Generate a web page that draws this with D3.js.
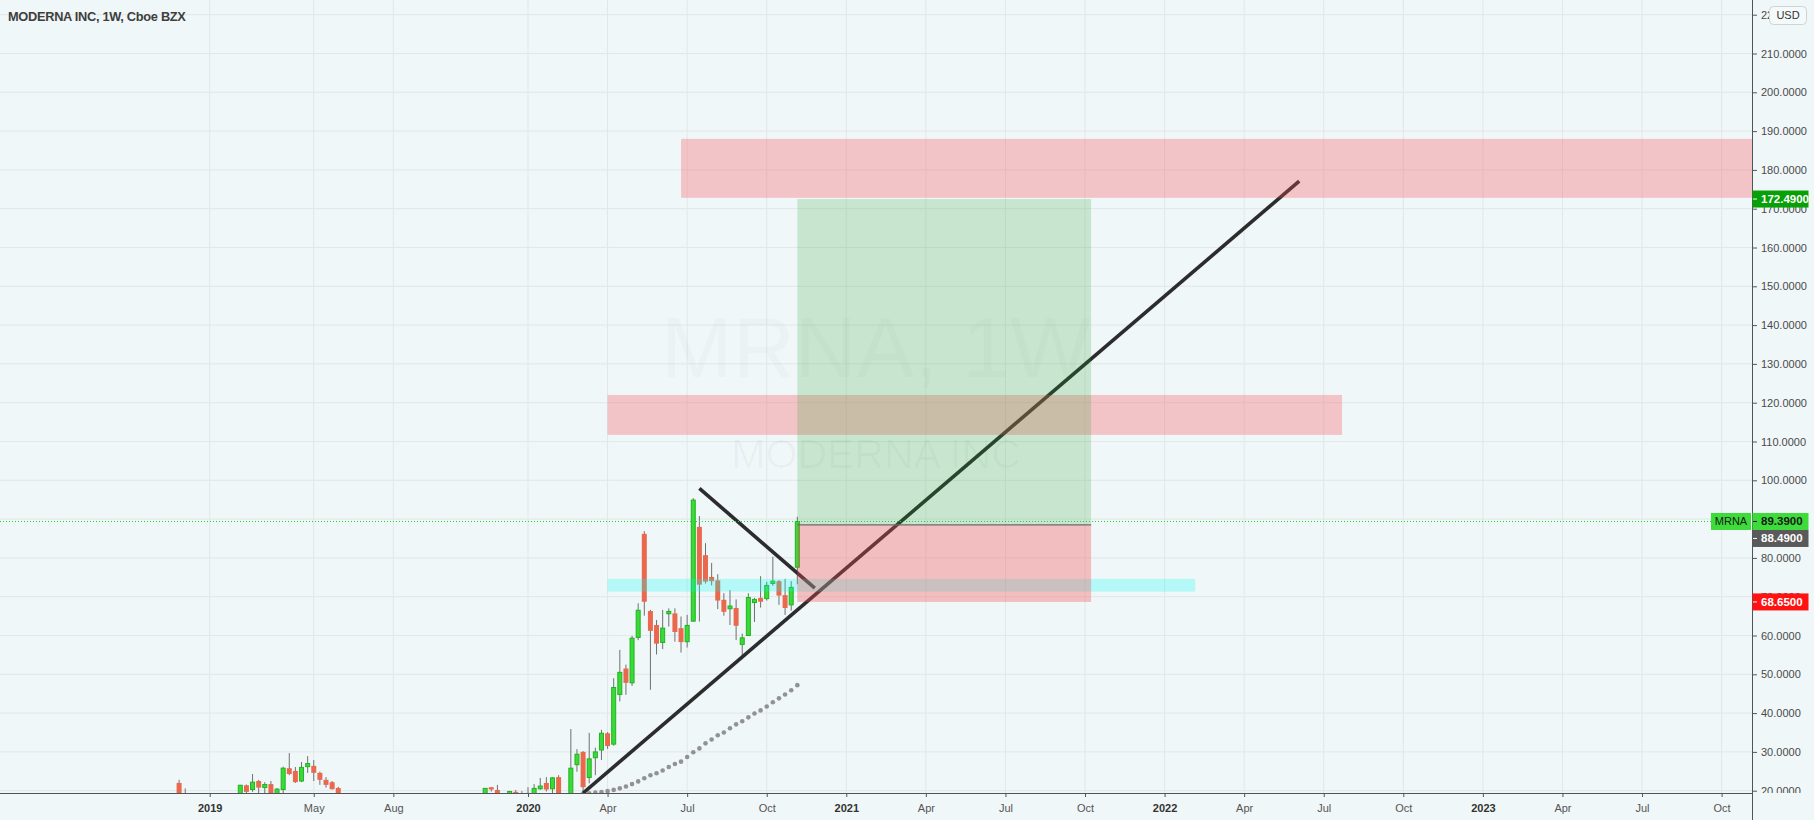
<!DOCTYPE html>
<html>
<head>
<meta charset="utf-8">
<script src="https://cdn.jsdelivr.net/npm/d3@7/dist/d3.min.js"></script>
<style>
html,body{margin:0;padding:0;background:#f0f7f8;}
svg{display:block;font-family:"Liberation Sans",Arial,sans-serif;}
</style>
</head>
<body>
<svg id="chart" width="1814" height="820"></svg>
<script>
// ---------------- DATA ----------------
const chartTitle = "MODERNA INC, 1W, Cboe BZX";
const watermarkSymbol = "MRNA, 1W";
const watermarkName = "MODERNA INC";
const symbolName = "MRNA";
const currency = "USD";

const weekDates = [
"2018-12-03","2018-12-10",
"2019-02-11","2019-02-18","2019-02-25","2019-03-04","2019-03-11","2019-03-18","2019-03-25",
"2019-04-01","2019-04-08","2019-04-15","2019-04-22","2019-04-29","2019-05-06","2019-05-13",
"2019-05-20","2019-05-27","2019-06-03",
"2019-11-18","2019-11-25","2019-12-02","2019-12-16","2019-12-23","2019-12-30",
"2020-01-06","2020-01-13","2020-01-20","2020-01-27","2020-02-03","2020-02-10","2020-02-24",
"2020-03-02","2020-03-09","2020-03-16","2020-03-23","2020-03-30","2020-04-06","2020-04-13",
"2020-04-20","2020-04-27","2020-05-04","2020-05-11","2020-05-18","2020-05-25","2020-06-01",
"2020-06-08","2020-06-15","2020-06-22","2020-06-29","2020-07-06","2020-07-13","2020-07-20",
"2020-07-27","2020-08-03","2020-08-10","2020-08-17","2020-08-24","2020-08-31","2020-09-07",
"2020-09-14","2020-09-21","2020-09-28","2020-10-05","2020-10-12","2020-10-19","2020-10-26",
"2020-11-02","2020-11-09"];

const openPrices = [
22.0,18.8,
19.0,21.4,20.3,22.5,20.8,21.7,19.2,
20.3,25.8,25.1,22.5,26.2,26.4,24.6,
22.8,22.2,20.7,
18.8,20.9,20.2,19.0,19.7,19.3,
18.9,19.0,20.5,22.0,20.5,23.5,19.0,
26.7,30.0,23.4,28.5,30.5,34.8,32.0,
44.8,51.5,47.8,59.5,86.2,66.3,62.7,
58.2,65.6,65.7,61.9,58.4,63.7,88.0,
80.7,75.1,74.2,69.2,66.9,67.1,57.7,
60.0,68.5,69.7,69.5,73.4,74.0,70.4,
67.9,77.6];

const highPrices = [
22.8,20.6,
21.5,21.6,24.3,22.8,22.2,22.5,20.7,
26.2,29.7,26.1,27.4,28.9,27.9,24.9,
23.5,22.5,21.0,
20.7,20.9,21.5,19.9,20.2,19.9,
20.9,21.7,23.3,23.5,23.5,24.0,35.9,
30.7,30.2,34.9,31.1,35.7,35.1,49.0,
56.3,52.5,59.9,68.3,86.9,66.6,64.0,
66.6,67.0,67.0,64.9,65.3,95.4,90.8,
83.8,78.7,75.8,70.9,71.7,69.3,60.5,
70.9,69.7,75.3,73.8,80.3,74.3,74.6,
74.0,90.6];

const lowPrices = [
17.5,16.8,
18.6,19.3,19.7,19.2,19.3,18.6,18.9,
19.2,24.0,22.0,22.2,24.6,22.5,21.5,
20.8,20.3,18.0,
18.5,19.8,18.7,18.8,19.0,18.6,
18.6,18.8,20.2,19.8,19.3,18.8,18.7,
24.9,19.8,21.9,24.0,27.9,30.8,31.6,
43.0,44.7,47.0,58.8,65.1,46.0,55.1,
56.5,62.3,58.4,55.6,56.9,63.6,63.6,
73.4,72.9,66.8,65.1,62.7,58.8,53.9,
60.0,63.5,67.2,69.0,72.8,67.9,65.3,
66.4,73.2];

const closePrices = [
18.6,17.3,
21.4,19.7,22.2,20.8,21.6,19.0,20.4,
25.8,24.3,22.2,26.0,27.0,24.6,22.8,
21.5,20.4,18.5,
20.6,20.3,19.0,19.8,19.2,19.1,
19.3,20.6,21.2,20.3,23.3,19.0,25.8,
29.4,20.9,28.2,30.0,34.8,31.5,46.6,
50.5,47.8,59.3,66.5,68.7,61.2,57.9,
61.9,66.2,60.9,58.3,62.6,94.9,73.1,
73.9,74.0,69.0,66.1,67.6,62.5,59.4,
69.8,69.3,68.7,72.9,74.0,70.3,67.1,
72.4,89.39];

// moving average (dotted), aligned with the last weeks of weekDates
const maValues = [
19.2,19.35,19.5,19.65,19.9,20.2,20.6,21.1,21.7,22.4,23.2,24.0,24.5,25.2,26.1,26.9,27.5,28.7,
29.9,30.9,32.2,33.2,34.3,35.0,36.1,37.1,37.9,38.9,39.9,40.7,41.7,42.8,43.8,44.8,45.9,47.2];

// drawings
const topZone = {start:"2020-06-29", end:"2024-06-01", low:172.8, high:188.0};
const midZone = {start:"2020-04-06", end:"2022-07-25", low:111.7, high:122.0};
const supportZone = {start:"2020-04-06", end:"2022-02-07", low:71.3, high:74.6};
const positionTool = {start:"2020-11-09", end:"2021-10-11", entry:88.49, target:172.49, stop:68.65};
const trendUp = [["2020-03-09", 19.4], ["2022-06-06", 177.1]];
const trendDown = [["2020-07-20", 97.9], ["2020-11-29", 72.2]];

// axes
const priceTicks = [20,30,40,50,60,70,80,90,100,110,120,130,140,150,160,170,180,190,200,210,220];
const timeTickDates = ["2019-01-07","2019-05-06","2019-08-05","2020-01-06","2020-04-06","2020-07-06",
"2020-10-05","2021-01-04","2021-04-05","2021-07-05","2021-10-04","2022-01-03","2022-04-04",
"2022-07-04","2022-10-03","2023-01-02","2023-04-03","2023-07-03","2023-10-02"];
const timeTickLabels = ["2019","May","Aug","2020","Apr","Jul","Oct","2021","Apr","Jul","Oct","2022",
"Apr","Jul","Oct","2023","Apr","Jul","Oct"];

// ---------------- CHART ----------------
const svg = d3.select("#chart");
const W = 1752, H = 793;
const P = d3.utcParse("%Y-%m-%d");
const x = d3.scaleUtc().domain([P("2020-01-06"), P("2023-10-02")]).range([528, 1721.6]);
const y = d3.scaleLinear().domain([20, 210]).range([790.7, 53.5]);

svg.append("rect").attr("width",1814).attr("height",820).attr("fill","#f0f7f8");
const defs = svg.append("defs");
defs.append("clipPath").attr("id","plotClip").append("rect").attr("x",0).attr("y",0).attr("width",W).attr("height",H);
// local coordinates of the translated price-axis group
defs.append("clipPath").attr("id","axisClip").append("rect").attr("x",0).attr("y",0).attr("width",62).attr("height",H);

// grid
const grid = svg.append("g").attr("clip-path","url(#plotClip)");
grid.selectAll("line.h").data(priceTicks).join("line").attr("class","h")
  .attr("x1",0).attr("x2",W).attr("y1",d=>y(d)).attr("y2",d=>y(d))
  .attr("stroke","#e2e7e9").attr("stroke-width",1);
grid.selectAll("line.v").data(timeTickDates).join("line").attr("class","v")
  .attr("x1",d=>x(P(d))).attr("x2",d=>x(P(d))).attr("y1",0).attr("y2",H)
  .attr("stroke","#e2e7e9").attr("stroke-width",1);

// watermark
const wm = svg.append("g").attr("clip-path","url(#plotClip)");
wm.append("text").attr("x",W/2).attr("y",377).attr("text-anchor","middle")
  .attr("font-size",86).attr("fill","rgba(0,0,0,0.02)").text(watermarkSymbol);
wm.append("text").attr("x",W/2).attr("y",468).attr("text-anchor","middle")
  .attr("font-size",41).attr("fill","rgba(0,0,0,0.03)").text(watermarkName);

const plot = svg.append("g").attr("clip-path","url(#plotClip)");

// candles
const bars = weekDates.map((d,i)=>({d:P(d),o:openPrices[i],h:highPrices[i],l:lowPrices[i],c:closePrices[i]}));
const cg = plot.append("g");
cg.selectAll("line.wick").data(bars).join("line").attr("class","wick")
  .attr("x1",b=>x(b.d)).attr("x2",b=>x(b.d)).attr("y1",b=>y(b.h)).attr("y2",b=>y(b.l))
  .attr("stroke","#707070").attr("stroke-width",1);
cg.selectAll("rect.body").data(bars).join("rect").attr("class","body")
  .attr("x",b=> b.c>=b.o ? x(b.d)-2 : x(b.d)-2.5)
  .attr("width",b=> b.c>=b.o ? 4 : 5)
  .attr("y",b=>y(Math.max(b.o,b.c)))
  .attr("height",b=>Math.max(1,Math.abs(y(b.o)-y(b.c))))
  .attr("fill",b=> b.c>=b.o ? "#3bd93a" : "#ea684d")
  .attr("stroke",b=> b.c>=b.o ? "#1fb41f" : "none")
  .attr("stroke-width",1);

// moving average dots
const maDates = weekDates.slice(-maValues.length);
plot.append("g").selectAll("circle").data(maValues).join("circle")
  .attr("cx",(v,i)=>x(P(maDates[i]))).attr("cy",v=>y(v)).attr("r",2.3).attr("fill","#929292");

// trend lines
const lineGen = d3.line().x(p=>x(P(p[0]))).y(p=>y(p[1]));
[trendUp, trendDown].forEach(t=>{
  plot.append("path").attr("d",lineGen(t)).attr("fill","none")
    .attr("stroke","#2c2c2c").attr("stroke-width",3.6);
});

// zones
function zone(z, fill){
  plot.append("rect").attr("x",x(P(z.start))).attr("width",x(P(z.end))-x(P(z.start)))
    .attr("y",y(z.high)).attr("height",y(z.low)-y(z.high)).attr("fill",fill);
}
zone(topZone,"rgba(250,80,85,0.3)");
zone(midZone,"rgba(250,80,85,0.3)");
zone(supportZone,"rgba(0,255,245,0.25)");
// position tool
const px0 = x(P(positionTool.start)), px1 = x(P(positionTool.end));
plot.append("rect").attr("x",px0).attr("width",px1-px0).attr("y",y(positionTool.target))
  .attr("height",y(positionTool.entry)-y(positionTool.target)).attr("fill","rgba(40,165,45,0.2)");
plot.append("rect").attr("x",px0).attr("width",px1-px0).attr("y",y(positionTool.entry))
  .attr("height",y(positionTool.stop)-y(positionTool.entry)).attr("fill","rgba(250,75,80,0.33)");
plot.append("line").attr("x1",px0).attr("x2",px1).attr("y1",y(positionTool.entry)).attr("y2",y(positionTool.entry))
  .attr("stroke","#6a6a6a").attr("stroke-width",1.2);

// last price dotted line
const lastClose = closePrices[closePrices.length-1];
plot.append("line").attr("x1",0).attr("x2",W).attr("y1",Math.round(y(lastClose))+0.5).attr("y2",Math.round(y(lastClose))+0.5)
  .attr("stroke","#22d422").attr("stroke-width",1).attr("stroke-dasharray","1,2");

// ---------------- AXES ----------------
// price axis
const yAxis = d3.axisRight(y).tickValues(priceTicks).tickFormat(d3.format(".4f")).tickSize(5).tickPadding(4);
const ya = svg.append("g").attr("transform",`translate(${W},0)`).attr("clip-path","url(#axisClip)").call(yAxis);
ya.select(".domain").remove();
ya.selectAll(".tick line").attr("stroke","#555");
ya.selectAll(".tick text").attr("font-size",11).attr("fill","#4a4a4a").attr("font-family","Liberation Sans, Arial, sans-serif");

// time axis
const xAxis = d3.axisBottom(x).tickValues(timeTickDates.map(P)).tickFormat((d,i)=>timeTickLabels[i]).tickSize(4).tickPadding(7);
const xa = svg.append("g").attr("transform",`translate(0,${H})`).call(xAxis);
xa.select(".domain").remove();
xa.selectAll(".tick line").attr("stroke","#555");
xa.selectAll(".tick text").attr("font-size",11).attr("font-family","Liberation Sans, Arial, sans-serif")
  .attr("fill",(d,i)=>/^\d{4}$/.test(timeTickLabels[i]) ? "#333" : "#555")
  .attr("font-weight",(d,i)=>/^\d{4}$/.test(timeTickLabels[i]) ? "bold" : "normal");

// axis lines
svg.append("line").attr("x1",0).attr("x2",W).attr("y1",H+0.5).attr("y2",H+0.5).attr("stroke","#50535a").attr("stroke-width",1);
svg.append("line").attr("x1",W+0.5).attr("x2",W+0.5).attr("y1",0).attr("y2",820).attr("stroke","#50535a").attr("stroke-width",1);

// price labels
const fmt = d3.format(".4f");
function priceLabel(cy, bg, fg, txt){
  const g = svg.append("g");
  g.append("rect").attr("x",W+0.5).attr("y",cy-8.5).attr("width",56).attr("height",17).attr("fill",bg);
  g.append("line").attr("x1",W+1).attr("x2",W+5).attr("y1",cy).attr("y2",cy).attr("stroke",fg);
  g.append("text").attr("x",W+9).attr("y",cy).attr("dy","0.35em").attr("font-size",11.5)
    .attr("font-weight","bold").attr("fill",fg).text(txt);
}
priceLabel(y(positionTool.target), "#07a107", "#ffffff", fmt(positionTool.target));
const cyLast = y(lastClose);
priceLabel(cyLast, "#3ddc3a", "#1a1a1a", fmt(lastClose));
priceLabel(cyLast+17, "#5a5a5a", "#ffffff", fmt(positionTool.entry));
priceLabel(y(positionTool.stop), "#ff1212", "#ffffff", fmt(positionTool.stop));
// symbol tag
svg.append("rect").attr("x",W-41).attr("y",cyLast-8.5).attr("width",40).attr("height",17).attr("fill","#3ddc3a");
svg.append("text").attr("x",W-21).attr("y",cyLast).attr("dy","0.35em").attr("text-anchor","middle")
  .attr("font-size",11).attr("fill","#1a1a1a").text(symbolName);

// currency button
svg.append("rect").attr("x",1769.5).attr("y",6.5).attr("width",37).attr("height",18).attr("rx",4)
  .attr("fill","#f4f9fa").attr("stroke","#cfd4d7");
svg.append("text").attr("x",1788).attr("y",15.5).attr("dy","0.35em").attr("text-anchor","middle")
  .attr("font-size",11).attr("fill","#333").text(currency);

// title
svg.append("text").attr("x",8).attr("y",21).attr("font-size",12.8).attr("font-weight","bold")
  .attr("letter-spacing",-0.3).attr("fill","#3e3e3e").text(chartTitle);
</script>
</body>
</html>
